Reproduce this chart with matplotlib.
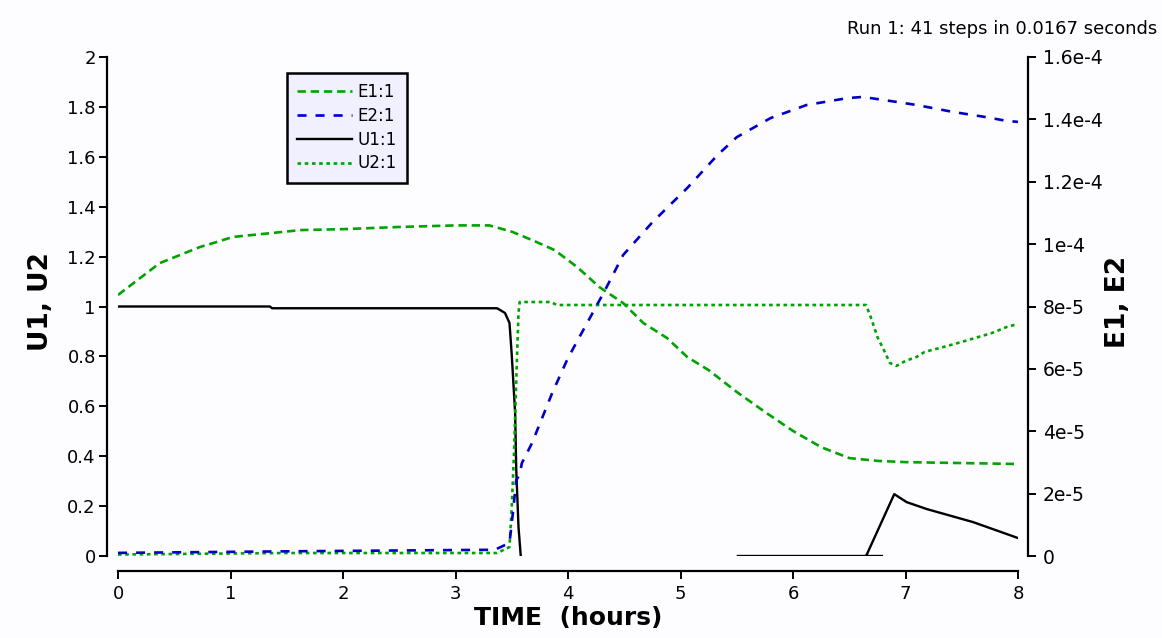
import numpy as np
import matplotlib.pyplot as plt

plt.rcParams['font.family'] = ['DejaVu Sans']
plt.rcParams['lines.scale_dashes'] = False

# time (hours) and values
t_e1 = [0, 0.37, 0.55, 0.73, 0.88, 1.02, 1.38, 1.62, 2.0, 2.5, 3.0, 3.3, 3.5, 3.7, 3.88,
        4.08, 4.28, 4.49, 4.67, 4.88, 5.06, 5.25, 5.5, 5.75, 6.0, 6.25, 6.5, 6.75, 7.0, 7.5, 8.0]
e1 = [8.37, 9.39, 9.65, 9.91, 10.07, 10.23, 10.36, 10.45, 10.48, 10.55, 10.6, 10.6, 10.4, 10.1, 9.81,
      9.27, 8.62, 8.11, 7.47, 6.99, 6.38, 5.96, 5.26, 4.62, 4.01, 3.49, 3.14, 3.05, 3.01, 2.98, 2.95]

t_e2 = [0, 1.5, 3.35, 3.48, 3.51, 3.54, 3.57, 3.59, 3.68, 3.86, 4.0, 4.17, 4.33, 4.49, 4.75,
        5.06, 5.33, 5.5, 5.8, 6.12, 6.48, 6.62, 6.92, 7.1, 7.42, 7.72, 7.9, 8.0]
e2 = [0.1, 0.15, 0.2, 0.42, 1.38, 2.44, 2.6, 2.98, 3.62, 5.23, 6.35, 7.47, 8.53, 9.65, 10.7,
      11.8, 12.86, 13.43, 14.04, 14.46, 14.68, 14.72, 14.56, 14.46, 14.24, 14.07, 13.95, 13.92]

t_u1 = [0, 1.35, 1.37, 3.37, 3.44, 3.48, 3.5, 3.53, 3.54, 3.56, 3.58, np.nan,
        5.51, 6.79, np.nan, 6.65, 6.9, 7.01, 7.19, 7.6, 8.0]
u1 = [1.0, 1.0, 0.993, 0.993, 0.974, 0.934, 0.806, 0.573, 0.345, 0.116, 0.0, np.nan,
      0.0, 0.0, np.nan, 0.0, 0.248, 0.216, 0.188, 0.136, 0.072]

t_u2 = [0, 1.5, 3.37, 3.48, 3.5, 3.52, 3.54, 3.56, 3.57, 3.85, 3.9, 6.65, 6.7, 6.75, 6.82,
        6.86, 6.92, 7.0, 7.1, 7.17, 7.34, 7.5, 7.65, 7.77, 7.9, 8.0]
u2 = [0.006, 0.012, 0.012, 0.036, 0.196, 0.41, 0.705, 0.974, 1.018, 1.018, 1.006, 1.006, 0.946, 0.878, 0.814,
      0.774, 0.762, 0.782, 0.798, 0.818, 0.838, 0.858, 0.878, 0.894, 0.918, 0.93]

xticks = [0, 1, 2, 3, 4, 5, 6, 7, 8]
yticks_left = [0, 0.2, 0.4, 0.6, 0.8, 1, 1.2, 1.4, 1.6, 1.8, 2]
ylabels_left = ['0', '0.2', '0.4', '0.6', '0.8', '1', '1.2', '1.4', '1.6', '1.8', '2']
yticks_right = [0, 2e-5, 4e-5, 6e-5, 8e-5, 1e-4, 1.2e-4, 1.4e-4, 1.6e-4]
ylabels_right = ['0', '2e-5', '4e-5', '6e-5', '8e-5', '1e-4', '1.2e-4', '1.4e-4', '1.6e-4']

green = '#00a300'
blue = '#0000c8'

fig = plt.figure(figsize=(11.62, 6.38), dpi=100, facecolor='#fdfcff')
ax = fig.add_axes([118 / 1162, 82 / 638, 900 / 1162, 499 / 638])
ax.set_facecolor('none')
ax2 = ax.twinx()
ax2.set_facecolor('none')

ln_u1, = ax.plot(t_u1, u1, color='black', lw=1.7)
ln_u2, = ax.plot(t_u2, u2, color=green, lw=1.9, dashes=(2.6, 2.6))
ln_e1, = ax2.plot(t_e1, np.array(e1) * 1e-5, color=green, lw=1.9, dashes=(6, 3.5))
ln_e2, = ax2.plot(t_e2, np.array(e2) * 1e-5, color=blue, lw=1.9, dashes=(6.5, 6.5))

ax.set_xlim(0, 8)
ax.set_ylim(0, 2)
ax2.set_ylim(0, 1.6e-4)

for s in ['top', 'right']:
    ax.spines[s].set_visible(False)
for s in ['top', 'left', 'bottom']:
    ax2.spines[s].set_visible(False)
ax.spines['left'].set_position(('outward', 8))
ax.spines['bottom'].set_position(('outward', 11))
ax2.spines['right'].set_position(('outward', 7))
ax.spines['left'].set_bounds(0, 2)
ax.spines['bottom'].set_bounds(0, 8)
for sp in [ax.spines['left'], ax.spines['bottom'], ax2.spines['right']]:
    sp.set_linewidth(1.6)

ax.set_xticks(xticks)
ax.set_xticklabels([str(x) for x in xticks])
ax.set_yticks(yticks_left)
ax.set_yticklabels(ylabels_left)
ax2.set_yticks(yticks_right)
ax2.set_yticklabels(ylabels_right)
ax.tick_params(axis='x', direction='out', length=6, width=1.4, labelsize=13, pad=4)
ax.tick_params(axis='y', direction='out', length=6, width=1.4, labelsize=13, pad=2)
ax2.tick_params(direction='out', length=6, width=1.4, labelsize=13.5, pad=5)

ax.set_xlabel('TIME  (hours)', fontsize=18, fontweight='bold')
ax.xaxis.set_label_coords(0.5, -0.10)
ax.set_ylabel('U1, U2', fontsize=19, fontweight='bold')
ax.yaxis.set_label_coords(-0.071, 0.51)
ax2.set_ylabel('E1, E2', fontsize=19, fontweight='bold')
ax2.yaxis.set_label_coords(1.097, 0.51)

leg = ax.legend([ln_e1, ln_e2, ln_u1, ln_u2], ['E1:1', 'E2:1', 'U1:1', 'U2:1'],
                loc='upper left', bbox_to_anchor=(287 / 1162, 1 - 73 / 638),
                bbox_transform=fig.transFigure, fontsize=12, handlelength=3.3,
                fancybox=False, framealpha=1, facecolor='#f0f0ff', edgecolor='black',
                labelspacing=0.35, borderpad=0.6, handletextpad=0.35, borderaxespad=0)
leg.get_frame().set_linewidth(1.8)

fig.text(1157 / 1162, 1 - 29 / 638, 'Run 1: 41 steps in 0.0167 seconds',
         ha='right', va='center', fontsize=13)

fig.savefig('out.png', dpi=100, facecolor=fig.get_facecolor())
